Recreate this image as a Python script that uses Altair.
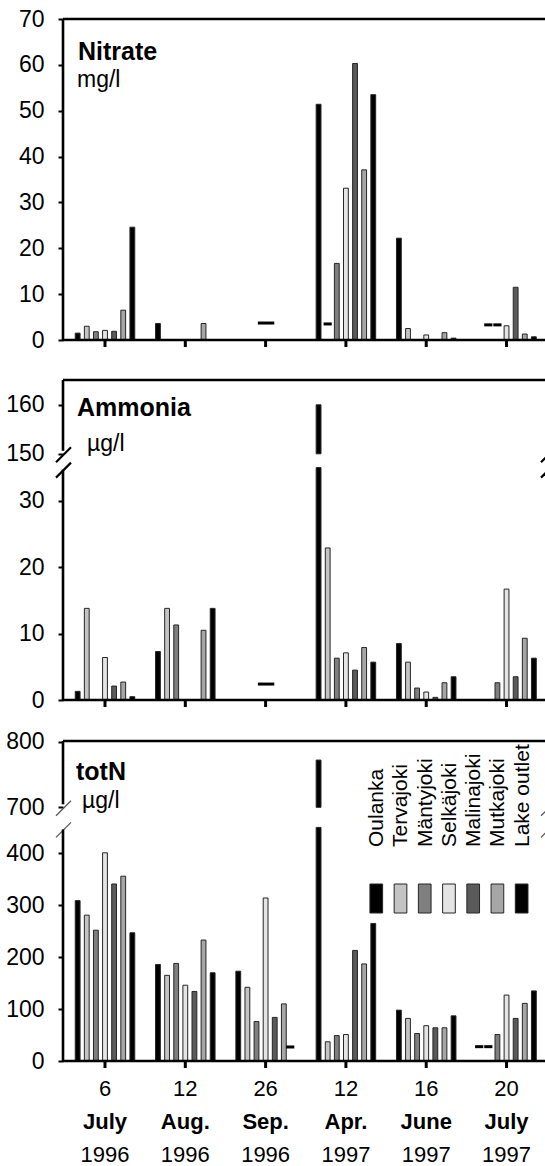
import altair as alt
import pandas as pd

# ---------------- data ----------------
STATIONS = ["Oulanka", "Tervajoki", "Mäntyjoki", "Selkäjoki", "Malinajoki", "Mutkajoki", "Lake outlet"]
FILLS = ["#000000", "#c4c4c4", "#7f7f7f", "#e4e4e4", "#5a5a5a", "#a6a6a6", "#000000"]
DAYS = ["6", "12", "26", "12", "16", "20"]
MONTHS = ["July", "Aug.", "Sep.", "Apr.", "June", "July"]
YEARS = ["1996", "1996", "1996", "1997", "1997", "1997"]

# one list per station (order of STATIONS), six sampling dates; None = no bar
NITRATE = [
    [1.5, 3.6, None, 51.4, 22.2, None],
    [3.0, None, None, None, 2.5, None],
    [1.8, None, None, 16.7, None, None],
    [2.1, None, None, 33.1, 1.1, 3.1],
    [1.9, None, None, 60.3, None, 11.5],
    [6.5, 3.6, None, 37.1, 1.6, 1.3],
    [24.6, None, None, 53.5, 0.4, 0.7],
]
AMMONIA = [
    [1.3, 7.3, None, 160, 8.5, None],
    [13.8, 13.8, None, 22.9, 5.7, None],
    [None, 11.3, None, 6.3, 1.8, 2.6],
    [6.4, None, None, 7.1, 1.2, 16.7],
    [2.1, None, None, 4.5, 0.4, 3.5],
    [2.7, 10.5, None, 7.9, 2.6, 9.3],
    [0.5, 13.8, None, 5.7, 3.5, 6.3],
]
TOTN = [
    [309, 186, 173, 772, 98, None],
    [281, 165, 142, 37, 82, None],
    [252, 188, 76, 49, 53, 51],
    [401, 146, 314, 51, 68, 127],
    [341, 134, 84, 213, 64, 82],
    [356, 233, 110, 187, 64, 111],
    [247, 170, None, 265, 87, 135],
]
# dash markers: (date index, first station index, last station index, value)
NITRATE_DASHES = [(2, 2.6, 3.5, 3.7), (3, 1, 1, 3.5), (5, 1, 1, 3.3), (5, 2, 2, 3.3)]
AMMONIA_DASHES = [(2, 2.6, 3.5, 2.4)]
TOTN_DASHES = [(2, 5.7, 5.7, 27), (5, 0, 0, 27.6), (5, 1, 1, 27.6)]

NITRATE_TICKS = [0, 10, 20, 30, 40, 50, 60, 70]
AMMONIA_TICKS = [0, 10, 20, 30, 150, 160]
TOTN_TICKS = [0, 100, 200, 300, 400, 700, 800]

# ---------------- layout ----------------
W = 482
H = 1042
XDOM = [-0.523, 5.479]
SLOT = 0.1135
HALF = 0.03
OUTLINE = "#262626"
FONT = "Liberation Sans"

PANELS = [
    dict(name="Nitrate", unit="mg/l", table=NITRATE, dashes=NITRATE_DASHES, ticks=NITRATE_TICKS,
         base=721, top=321, lo=(70, 321), up=None, name_xy=(15, 41), unit_xy=(14, 67.5),
         brk=None),
    dict(name="Ammonia", unit="µg/l", table=AMMONIA, dashes=AMMONIA_DASHES, ticks=AMMONIA_TICKS,
         base=361, top=320, lo=(35, 232.4), up=(150, 246.2, 165, 319.7), name_xy=(14, 397),
         unit_xy=(24, 432), brk=("black", 2.2)),
    dict(name="totN", unit="µg/l", table=TOTN, dashes=TOTN_DASHES, ticks=TOTN_TICKS,
         base=0, top=320, lo=(450, 233.6), up=(700, 253.7, 800, 319.3), name_xy=(13, 761),
         unit_xy=(19, 789), brk=("#555555", 1.3)),
]


def disp(p, v):
    lo_max, lo_px = p["lo"]
    if v <= lo_max:
        return p["base"] + v * lo_px / lo_max
    up_min, up0, up_max, up1 = p["up"]
    return p["base"] + up0 + (v - up_min) * (up1 - up0) / (up_max - up_min)


tick_keys, tick_labels = [], []
for p in PANELS:
    for t in p["ticks"]:
        tick_keys.append(round(disp(p, t) * 10))
        tick_labels.append(str(t))

XS = alt.Scale(domain=XDOM, nice=False, zero=False)
YS = alt.Scale(domain=[0, H], nice=False, zero=False)
YAX = alt.Axis(
    values=[k / 10 for k in tick_keys],
    labelExpr="[" + ",".join(f"'{l}'" for l in tick_labels) + "][indexof(["
    + ",".join(str(k) for k in tick_keys) + "], round(datum.value*10))]",
    domain=False, grid=False, title=None, ticks=True, tickSize=5, tickWidth=2,
    tickColor="black", labelFont=FONT, labelFontSize=23, labelColor="black",
    labelPadding=14, labelFlush=False, labelOverlap=False, labelBound=False,
)
FILL = alt.Fill("station:N", scale=alt.Scale(domain=STATIONS, range=FILLS), legend=None)


def X(f):
    return alt.X(f, scale=XS, axis=None)


def Y(f):
    return alt.Y(f, scale=YS, axis=YAX)


def long_df(table):
    rows = []
    for k, (name, vals) in enumerate(zip(STATIONS, table)):
        for g, v in enumerate(vals):
            if v is not None:
                rows.append({"station": name, "k": k, "g": g, "v": v})
    return pd.DataFrame(rows)


layers = []
for p in PANELS:
    base = p["base"]
    lo_max, lo_px = p["lo"]
    lo_k = lo_px / lo_max
    df = long_df(p["table"])

    lower = (
        alt.Chart(df)
        .transform_calculate(xc=f"datum.g + (datum.k - 3) * {SLOT}")
        .transform_calculate(xa=f"datum.xc - {HALF}", xb=f"datum.xc + {HALF}")
        .transform_calculate(ya=f"{base}", yb=f"{base} + min(datum.v, {lo_max}) * {lo_k}")
        .mark_rect(stroke=OUTLINE, strokeWidth=1)
        .encode(x=X("xa:Q"), x2="xb:Q", y=Y("ya:Q"), y2="yb:Q", fill=FILL)
    )
    layers.append(lower)

    seg_rows = []
    if p["up"]:
        up_min, up0, up_max, up1 = p["up"]
        up_k = (up1 - up0) / (up_max - up_min)
        upper = (
            alt.Chart(df)
            .transform_filter(f"datum.v > {lo_max}")
            .transform_calculate(xc=f"datum.g + (datum.k - 3) * {SLOT}")
            .transform_calculate(xa=f"datum.xc - {HALF}", xb=f"datum.xc + {HALF}")
            .transform_calculate(ya=f"{base + up0}", yb=f"{base + up0} + (datum.v - {up_min}) * {up_k}")
            .mark_rect(stroke=OUTLINE, strokeWidth=1)
            .encode(x=X("xa:Q"), x2="xb:Q", y=Y("ya:Q"), y2="yb:Q", fill=FILL)
        )
        layers.append(upper)
        seg_rows = [(base, base + lo_px - 2), (base + up0 + 3, base + p["top"])]
        # break marks
        col, sw = p["brk"]
        bm = pd.DataFrame({"ya": [base + up0 - 1.5 - 7, base + lo_px - 3 - 7],
                           "yb": [base + up0 - 1.5 + 8, base + lo_px - 3 + 8]})
        for x0 in (0, W + 3):
            layers.append(
                alt.Chart(bm).mark_rule(color=col, strokeWidth=sw)
                .encode(x=alt.value(x0 - 7), x2=alt.value(x0 + 8), y=Y("ya:Q"), y2="yb:Q")
            )
    else:
        seg_rows = [(base, base + p["top"])]

    # left axis line segments
    segs = pd.DataFrame(seg_rows, columns=["ya", "yb"])
    layers.append(
        alt.Chart(segs).mark_rule(color="black", strokeWidth=2.6)
        .encode(x=alt.value(0), y=Y("ya:Q"), y2="yb:Q")
    )
    # top frame line and baseline
    hl = pd.DataFrame({"ya": [base + p["top"], base]})
    layers.append(
        alt.Chart(hl).mark_rule(color="black", strokeWidth=2.6)
        .encode(x=alt.value(0), x2=alt.value(W), y=Y("ya:Q"))
    )
    # tick stubs below baseline at each date
    tk = pd.DataFrame({"g": list(range(6))})
    layers.append(
        alt.Chart(tk).transform_calculate(ya=f"{base}", yb=f"{base} - 7")
        .mark_rule(color="black", strokeWidth=3)
        .encode(x=X("g:Q"), y=Y("ya:Q"), y2="yb:Q")
    )
    # dashes
    dd = pd.DataFrame(p["dashes"], columns=["g", "k1", "k2", "v"])
    layers.append(
        alt.Chart(dd)
        .transform_calculate(xa=f"datum.g + (datum.k1 - 3.45) * {SLOT}",
                             xb=f"datum.g + (datum.k2 - 2.55) * {SLOT}",
                             ya=f"{base} + datum.v * {lo_k}")
        .mark_rule(color="black", strokeWidth=3)
        .encode(x=X("xa:Q"), x2="xb:Q", y=Y("ya:Q"))
    )
    # panel titles
    nx, ny = p["name_xy"]
    ux, uy = p["unit_xy"]
    layers.append(
        alt.Chart(pd.DataFrame({"t": [p["name"]]}))
        .mark_text(font=FONT, fontSize=25, fontWeight="bold", align="left", baseline="alphabetic", color="black")
        .encode(x=alt.value(nx), y=alt.value(ny), text="t:N")
    )
    layers.append(
        alt.Chart(pd.DataFrame({"t": [p["unit"]]}))
        .mark_text(font=FONT, fontSize=23, align="left", baseline="alphabetic", color="black")
        .encode(x=alt.value(ux), y=alt.value(uy), text="t:N")
    )

# legend inside the totN panel
LX0 = 3.378
LSTEP = 0.3017
LHALF = 0.079
leg = pd.DataFrame({"station": STATIONS, "k": list(range(7))})
layers.append(
    alt.Chart(leg)
    .transform_calculate(lx=f"{LX0} + datum.k * {LSTEP}")
    .transform_calculate(xa=f"datum.lx - {LHALF}", xb=f"datum.lx + {LHALF}", ya="148", yb="177")
    .mark_rect(stroke=OUTLINE, strokeWidth=1)
    .encode(x=X("xa:Q"), x2="xb:Q", y=Y("ya:Q"), y2="yb:Q", fill=FILL)
)
layers.append(
    alt.Chart(leg)
    .transform_calculate(lx=f"{LX0} + datum.k * {LSTEP} + 0.012")
    .mark_text(font=FONT, fontSize=21, angle=270, align="left", baseline="middle", color="black")
    .encode(x=X("lx:Q"), y=alt.value(828), text="station:N")
)

# bottom date labels
dates = pd.DataFrame({"g": list(range(6)), "day": DAYS, "month": MONTHS, "year": YEARS})
layers.append(
    alt.Chart(dates).mark_text(font=FONT, fontSize=22, align="center", baseline="alphabetic", color="black")
    .encode(x=X("g:Q"), y=alt.value(1077), text="day:N")
)
layers.append(
    alt.Chart(dates).mark_text(font=FONT, fontSize=22, fontWeight="bold", align="center", baseline="alphabetic", color="black")
    .encode(x=X("g:Q"), y=alt.value(1110), text="month:N")
)
layers.append(
    alt.Chart(dates).mark_text(font=FONT, fontSize=22, align="center", baseline="alphabetic", color="black")
    .encode(x=X("g:Q"), y=alt.value(1143), text="year:N")
)

chart = (
    alt.layer(*layers)
    .properties(width=W, height=H, padding={"left": 63, "top": 19, "right": 0, "bottom": 105},
                autosize=alt.AutoSizeParams(type="none"), background="white")
    .configure_view(stroke=None)
)

chart.save("out.html", embed_options={"renderer": "svg", "actions": False})
